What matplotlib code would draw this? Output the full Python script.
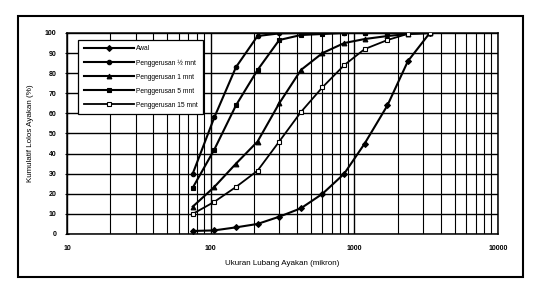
import matplotlib
matplotlib.use("Agg")
import matplotlib.pyplot as plt
from matplotlib.patches import Rectangle
from matplotlib.ticker import LogLocator, FixedLocator, NullFormatter

plt.rcParams['font.family'] = ['Liberation Sans', 'DejaVu Sans']

sizes = [75, 106, 150, 212, 300, 425, 600, 850, 1180, 1700, 2360, 3350]
awal = [1.5, 1.8, 3.3, 5, 8.6, 12.8, 20, 30, 45, 64, 86, 100]
g_half = [30, 58, 83, 98.5, 99.8, 100, 100, 100, 100, 100, 100, 100]
g_1 = [13.6, 23.4, 35, 46, 65, 81.6, 90, 95, 97, 98.5, 99.5, 100]
g_5 = [23, 42, 64, 81.6, 96.5, 99, 99.5, 100, 100, 100, 100, 100]
g_15 = [10, 16, 23.4, 31.5, 46, 60.7, 73, 84, 92, 96.5, 99.6, 100]

labels = ["Awal", "Penggerusan ½ mnt", "Penggerusan 1 mnt",
          "Penggerusan 5 mnt", "Penggerusan 15 mnt"]
yticks = [0, 10, 20, 30, 40, 50, 60, 70, 80, 90, 100]
xticks = [10, 100, 1000, 10000]

W, H = 533, 290
fig = plt.figure(figsize=(W / 100, H / 100), dpi=100)
ax = fig.add_axes([67 / W, 1 - 234 / H, 431 / W, 201 / H])

fig.patches.append(Rectangle((18 / W, 1 - 277 / H), 505 / W, 261 / H,
                             transform=fig.transFigure, fill=False,
                             lw=1.5, ec='black'))

series = [
    (awal, dict(marker='D', ms=3, mfc='black', lw=1.5)),
    (g_half, dict(marker='o', ms=3.2, mfc='black', lw=1.5)),
    (g_1, dict(marker='^', ms=3.4, mfc='black', lw=1.5)),
    (g_5, dict(marker='s', ms=3.2, mfc='black', lw=1.5)),
    (g_15, dict(marker='s', ms=3.4, mfc='white', lw=1.3)),
]
for (vals, st), lab in zip(series, labels):
    ax.plot(sizes, vals, color='black', mec='black', mew=0.8,
            label=lab, zorder=3, **st)

ax.set_xscale('log')
ax.set_xlim(10, 10000)
ax.set_ylim(0, 100)
ax.xaxis.set_major_locator(FixedLocator(xticks))
ax.xaxis.set_minor_locator(LogLocator(base=10, subs=range(2, 10)))
ax.xaxis.set_minor_formatter(NullFormatter())
ax.set_xticklabels([str(v) for v in xticks])
ax.set_yticks(yticks)
ax.set_yticklabels([str(v) for v in yticks])
ax.grid(True, which='major', color='black', lw=1.0)
ax.grid(True, which='minor', axis='x', color='black', lw=0.8)
ax.tick_params(axis='both', which='both', labelsize=5, length=0, pad=8)
ax.tick_params(axis='y', which='major', length=3, direction='inout', pad=6)
for lbl in ax.get_xticklabels() + ax.get_yticklabels():
    lbl.set_fontweight('bold')
for sp in ax.spines.values():
    sp.set_linewidth(1.1)

ax.set_xlabel("Ukuran Lubang Ayakan (mikron)", fontsize=5.8, labelpad=6)
ax.set_ylabel("Kumulatif Lolos Ayakan (%)", fontsize=5.8, labelpad=8)

leg = ax.legend(loc='upper left', bbox_to_anchor=(0.026, 0.965),
                fontsize=4.8, frameon=True, fancybox=False, framealpha=1,
                edgecolor='black', handlelength=7.5, borderpad=0.8,
                labelspacing=1.05, handletextpad=0.3, borderaxespad=0)
leg.get_frame().set_linewidth(0.9)
leg.set_zorder(5)

fig.savefig("out.png", dpi=100)
